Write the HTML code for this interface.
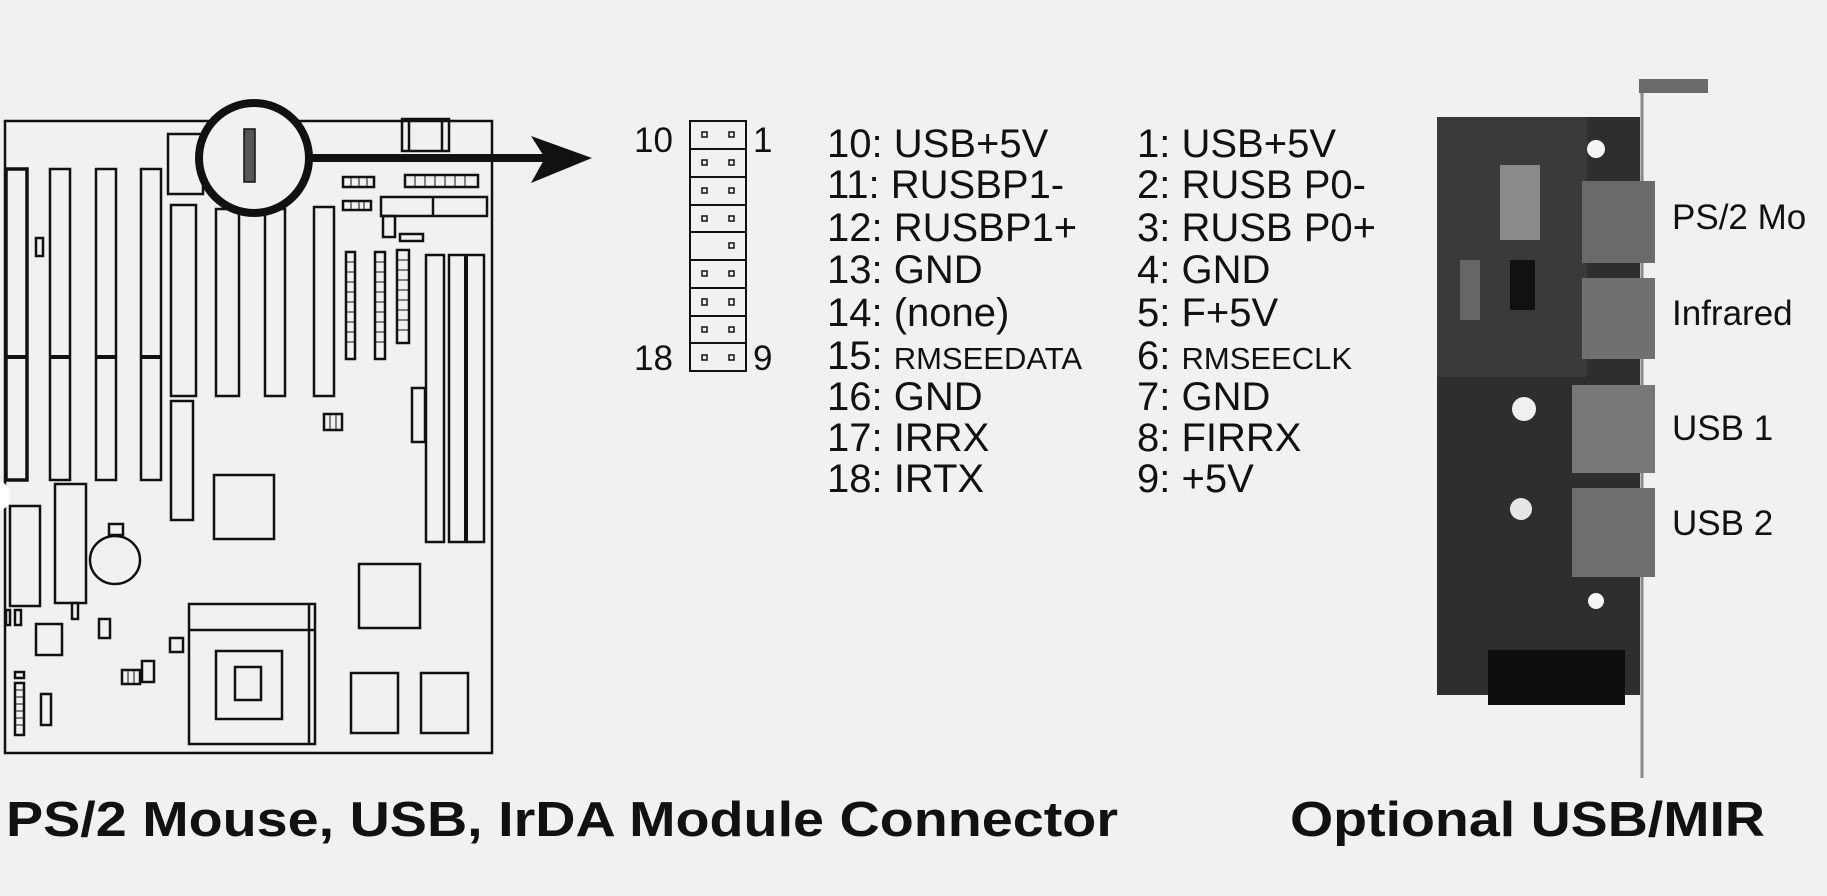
<!DOCTYPE html>
<html><head><meta charset="utf-8"><style>
html,body{margin:0;padding:0;background:#f1f1f1;}
svg{display:block;}
text{font-family:"Liberation Sans",Arial,sans-serif;fill:#111;}
</style></head><body>
<svg width="1827" height="896" viewBox="0 0 1827 896" xmlns="http://www.w3.org/2000/svg">
<rect width="1827" height="896" fill="#f1f1f1"/>
<g fill="none" stroke="#111" stroke-width="2.5">
<rect x="5" y="121" width="487" height="632"/>
<rect x="6" y="169" width="21" height="311" stroke-width="3.5"/>
<rect x="50" y="169" width="20" height="311"/>
<rect x="96" y="169" width="20" height="311"/>
<rect x="141" y="169" width="20" height="311"/>
<line x1="6" y1="357" x2="27" y2="357" stroke-width="4"/>
<line x1="50" y1="357" x2="70" y2="357" stroke-width="4"/>
<line x1="96" y1="357" x2="116" y2="357" stroke-width="4"/>
<line x1="141" y1="357" x2="161" y2="357" stroke-width="4"/>
<rect x="36" y="238" width="7" height="18"/>
<rect x="168" y="134" width="35" height="60"/>
<rect x="402" y="119" width="47" height="32"/>
<line x1="409" y1="119" x2="409" y2="151"/><line x1="442" y1="119" x2="442" y2="151"/>
<rect x="171" y="205" width="25" height="191"/>
<rect x="216" y="209" width="23" height="187"/>
<rect x="265" y="209" width="20" height="187"/>
<rect x="314" y="207" width="20" height="189"/>
<rect x="171" y="401" width="22" height="119"/>
<rect x="343" y="177" width="31" height="10"/>
<rect x="343" y="201" width="28" height="9"/>
<rect x="405" y="175" width="73" height="12"/>
<rect x="381" y="197" width="106" height="19"/>
<line x1="433" y1="197" x2="433" y2="216"/>
<rect x="383" y="216" width="12" height="21"/>
<rect x="400" y="234" width="23" height="7"/>
<rect x="346" y="252" width="9" height="107"/>
<rect x="375" y="252" width="10" height="107"/>
<rect x="397" y="250" width="12" height="93"/>
<rect x="426" y="255" width="18" height="287"/>
<rect x="449" y="255" width="35" height="287"/>
<line x1="466" y1="255" x2="466" y2="542" stroke-width="4"/>
<rect x="412" y="388" width="13" height="54"/>
<rect x="324" y="414" width="18" height="16"/>
<rect x="214" y="475" width="60" height="64"/>
<rect x="10" y="506" width="30" height="100"/>
<rect x="55" y="484" width="31" height="119"/>
<rect x="72" y="603" width="6" height="16"/>
<ellipse cx="115" cy="560" rx="25" ry="24"/>
<rect x="109" y="524" width="14" height="11"/>
<rect x="6" y="610" width="4" height="15"/>
<rect x="15" y="610" width="6" height="15"/>
<rect x="36" y="624" width="26" height="31"/>
<rect x="99" y="619" width="11" height="19"/>
<rect x="170" y="638" width="13" height="14"/>
<rect x="122" y="670" width="18" height="14"/>
<rect x="142" y="661" width="12" height="21"/>
<rect x="15" y="672" width="9" height="6"/>
<rect x="15" y="683" width="9" height="52"/>
<rect x="41" y="694" width="10" height="31"/>
<rect x="189" y="604" width="126" height="140"/>
<line x1="189" y1="630" x2="315" y2="630"/>
<line x1="309" y1="604" x2="309" y2="744"/>
<rect x="216" y="651" width="66" height="68"/>
<rect x="235" y="667" width="26" height="33"/>
<rect x="359" y="564" width="61" height="64"/>
<rect x="351" y="673" width="47" height="60"/>
<rect x="421" y="673" width="47" height="60"/>
</g>
<g stroke="#111" stroke-width="1">
<line x1="346" y1="262" x2="355" y2="262"/><line x1="346" y1="272" x2="355" y2="272"/><line x1="346" y1="282" x2="355" y2="282"/><line x1="346" y1="292" x2="355" y2="292"/><line x1="346" y1="302" x2="355" y2="302"/><line x1="346" y1="312" x2="355" y2="312"/><line x1="346" y1="322" x2="355" y2="322"/><line x1="346" y1="332" x2="355" y2="332"/><line x1="346" y1="342" x2="355" y2="342"/>
<line x1="375" y1="262" x2="385" y2="262"/><line x1="375" y1="272" x2="385" y2="272"/><line x1="375" y1="282" x2="385" y2="282"/><line x1="375" y1="292" x2="385" y2="292"/><line x1="375" y1="302" x2="385" y2="302"/><line x1="375" y1="312" x2="385" y2="312"/><line x1="375" y1="322" x2="385" y2="322"/><line x1="375" y1="332" x2="385" y2="332"/><line x1="375" y1="342" x2="385" y2="342"/>
<line x1="397" y1="260" x2="409" y2="260"/><line x1="397" y1="270" x2="409" y2="270"/><line x1="397" y1="280" x2="409" y2="280"/><line x1="397" y1="290" x2="409" y2="290"/><line x1="397" y1="300" x2="409" y2="300"/><line x1="397" y1="310" x2="409" y2="310"/><line x1="397" y1="320" x2="409" y2="320"/><line x1="397" y1="330" x2="409" y2="330"/>
<line x1="415" y1="175" x2="415" y2="187"/><line x1="425" y1="175" x2="425" y2="187"/><line x1="435" y1="175" x2="435" y2="187"/><line x1="445" y1="175" x2="445" y2="187"/><line x1="455" y1="175" x2="455" y2="187"/><line x1="465" y1="175" x2="465" y2="187"/>
<line x1="351" y1="177" x2="351" y2="187"/><line x1="359" y1="177" x2="359" y2="187"/><line x1="367" y1="177" x2="367" y2="187"/>
<line x1="351" y1="201" x2="351" y2="210"/><line x1="359" y1="201" x2="359" y2="210"/><line x1="364" y1="201" x2="364" y2="210"/>
<line x1="15" y1="690" x2="24" y2="690"/><line x1="15" y1="697" x2="24" y2="697"/><line x1="15" y1="704" x2="24" y2="704"/><line x1="15" y1="711" x2="24" y2="711"/><line x1="15" y1="718" x2="24" y2="718"/><line x1="15" y1="725" x2="24" y2="725"/>
<line x1="128" y1="670" x2="128" y2="684"/><line x1="134" y1="670" x2="134" y2="684"/>
<line x1="330" y1="414" x2="330" y2="430"/><line x1="336" y1="414" x2="336" y2="430"/>
</g>
<ellipse cx="254" cy="158" rx="55" ry="55" fill="#f1f1f1" stroke="#111" stroke-width="8"/>
<rect x="244" y="129" width="11" height="53" fill="#555" stroke="#111" stroke-width="1.5"/>
<line x1="309" y1="158" x2="545" y2="158" stroke="#111" stroke-width="8"/>
<polygon points="531,136 592,158 531,183 545,158" fill="#111"/>
<path d="M0 482 a10 14 0 0 1 0 28 z" fill="#fff"/>
<g fill="none" stroke="#111" stroke-width="2">
<rect x="690" y="121" width="56" height="250"/>
<line x1="690" y1="149" x2="746" y2="149"/><line x1="690" y1="177" x2="746" y2="177"/><line x1="690" y1="205" x2="746" y2="205"/><line x1="690" y1="232" x2="746" y2="232"/><line x1="690" y1="260" x2="746" y2="260"/><line x1="690" y1="288" x2="746" y2="288"/><line x1="690" y1="316" x2="746" y2="316"/><line x1="690" y1="343" x2="746" y2="343"/>
</g>
<g fill="none" stroke="#111" stroke-width="1.5">
<rect x="702" y="132" width="5" height="5"/><rect x="729" y="132" width="5" height="5"/>
<rect x="702" y="160" width="5" height="5"/><rect x="729" y="160" width="5" height="5"/>
<rect x="702" y="188" width="5" height="5"/><rect x="729" y="188" width="5" height="5"/>
<rect x="702" y="216" width="5" height="5"/><rect x="729" y="216" width="5" height="5"/>
<rect x="729" y="243" width="5" height="5"/>
<rect x="702" y="271" width="5" height="5"/><rect x="729" y="271" width="5" height="5"/>
<rect x="702" y="299" width="5" height="6"/><rect x="729" y="299" width="5" height="6"/>
<rect x="702" y="327" width="5" height="5"/><rect x="729" y="327" width="5" height="5"/>
<rect x="702" y="355" width="5" height="5"/><rect x="729" y="355" width="5" height="5"/>
</g>
<g font-size="35">
<text x="634" y="152">10</text><text x="753" y="152">1</text>
<text x="634" y="370">18</text><text x="753" y="370">9</text>
</g>
<g font-size="40">
<text x="827" y="157">10: USB+5V</text>
<text x="827" y="198">11: RUSBP1-</text>
<text x="827" y="241">12: RUSBP1+</text>
<text x="827" y="283">13: GND</text>
<text x="827" y="326">14: (none)</text>
<text x="827" y="369">15: <tspan font-size="31">RMSEEDATA</tspan></text>
<text x="827" y="410">16: GND</text>
<text x="827" y="451">17: IRRX</text>
<text x="827" y="492">18: IRTX</text>
<text x="1137" y="157">1: USB+5V</text>
<text x="1137" y="198">2: RUSB P0-</text>
<text x="1137" y="241">3: RUSB P0+</text>
<text x="1137" y="283">4: GND</text>
<text x="1137" y="326">5: F+5V</text>
<text x="1137" y="369">6: <tspan font-size="31">RMSEECLK</tspan></text>
<text x="1137" y="410">7: GND</text>
<text x="1137" y="451">8: FIRRX</text>
<text x="1137" y="492">9: +5V</text>
</g>
<line x1="1642" y1="85" x2="1642" y2="778" stroke="#888" stroke-width="3"/>
<rect x="1639" y="79" width="69" height="14" fill="#6a6a6a"/>
<rect x="1437" y="117" width="203" height="578" fill="#2e2e2e"/>
<rect x="1437" y="117" width="150" height="260" fill="#3a3a3a"/>
<rect x="1500" y="165" width="40" height="75" fill="#8a8a8a"/>
<rect x="1510" y="260" width="25" height="50" fill="#111"/>
<rect x="1460" y="260" width="20" height="60" fill="#666"/>
<rect x="1582" y="181" width="73" height="82" fill="#6a6a6a"/>
<rect x="1582" y="278" width="73" height="81" fill="#707070"/>
<rect x="1572" y="385" width="83" height="88" fill="#777"/>
<rect x="1572" y="488" width="83" height="89" fill="#6e6e6e"/>
<rect x="1488" y="650" width="137" height="55" fill="#0e0e0e"/>
<circle cx="1596" cy="149" r="9" fill="#f5f5f5"/>
<circle cx="1524" cy="409" r="12" fill="#f0f0f0"/>
<circle cx="1521" cy="509" r="11" fill="#e6e6e6"/>
<circle cx="1596" cy="601" r="8" fill="#f5f5f5"/>
<g font-size="35">
<text x="1672" y="229">PS/2 Mo</text>
<text x="1672" y="325">Infrared</text>
<text x="1672" y="440">USB 1</text>
<text x="1672" y="535">USB 2</text>
</g>
<g font-size="49" font-weight="bold">
<text x="6" y="836" textLength="1112" lengthAdjust="spacingAndGlyphs">PS/2 Mouse, USB, IrDA Module Connector</text>
<text x="1290" y="836" textLength="475" lengthAdjust="spacingAndGlyphs">Optional USB/MIR</text>
</g>
</svg>
</body></html>
